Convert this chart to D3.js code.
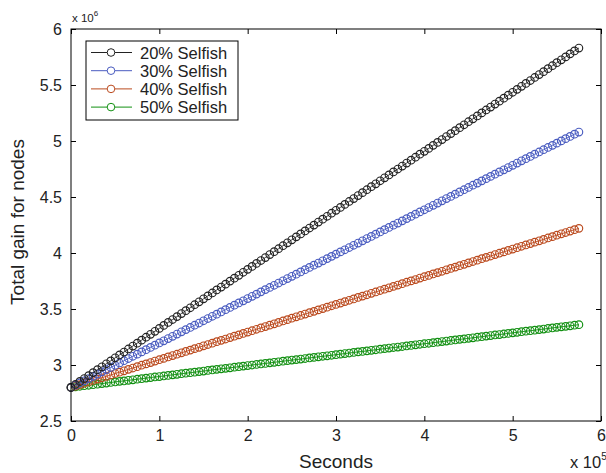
<!DOCTYPE html>
<html><head><meta charset="utf-8">
<script src="https://cdn.jsdelivr.net/npm/d3@7"></script>
<style>body{margin:0;background:#fff;}svg{display:block;font-family:"Liberation Sans",Arial,Helvetica,sans-serif;}</style>
</head><body><svg id="c" width="606" height="473"></svg>
<script>
// seconds (x 10^5)
const seconds = [0,0.05,0.1,0.15,0.2,0.25,0.3,0.35,0.4,0.45,0.5,0.55,0.6,0.65,0.7,0.75,0.8,0.85,0.9,0.95,
1,1.05,1.1,1.15,1.2,1.25,1.3,1.35,1.4,1.45,1.5,1.55,1.6,1.65,1.7,1.75,1.8,1.85,1.9,1.95,
2,2.05,2.1,2.15,2.2,2.25,2.3,2.35,2.4,2.45,2.5,2.55,2.6,2.65,2.7,2.75,2.8,2.85,2.9,2.95,
3,3.05,3.1,3.15,3.2,3.25,3.3,3.35,3.4,3.45,3.5,3.55,3.6,3.65,3.7,3.75,3.8,3.85,3.9,3.95,
4,4.05,4.1,4.15,4.2,4.25,4.3,4.35,4.4,4.45,4.5,4.55,4.6,4.65,4.7,4.75,4.8,4.85,4.9,4.95,
5,5.05,5.1,5.15,5.2,5.25,5.3,5.35,5.4,5.45,5.5,5.55,5.6,5.65,5.7,5.75];
// total gain (x 10^6)
const selfish20 = [2.800,2.826,2.853,2.879,2.905,2.932,2.958,2.984,3.011,3.037,3.064,3.090,3.116,3.143,3.169,3.195,3.222,3.248,3.274,3.301,
3.327,3.353,3.380,3.406,3.432,3.459,3.485,3.511,3.538,3.564,3.591,3.617,3.643,3.670,3.696,3.722,3.749,3.775,3.801,3.828,
3.854,3.880,3.907,3.933,3.959,3.986,4.012,4.038,4.065,4.091,4.118,4.144,4.170,4.197,4.223,4.249,4.276,4.302,4.328,4.355,
4.381,4.407,4.434,4.460,4.486,4.513,4.539,4.565,4.592,4.618,4.645,4.671,4.697,4.724,4.750,4.776,4.803,4.829,4.855,4.882,
4.908,4.934,4.961,4.987,5.013,5.040,5.066,5.092,5.119,5.145,5.172,5.198,5.224,5.251,5.277,5.303,5.330,5.356,5.382,5.409,
5.435,5.461,5.488,5.514,5.540,5.567,5.593,5.619,5.646,5.672,5.699,5.725,5.751,5.778,5.804,5.830];
const selfish30 = [2.800,2.820,2.840,2.859,2.879,2.899,2.919,2.939,2.959,2.978,2.998,3.018,3.038,3.058,3.078,3.097,3.117,3.137,3.157,3.177,
3.197,3.216,3.236,3.256,3.276,3.296,3.316,3.335,3.355,3.375,3.395,3.415,3.435,3.454,3.474,3.494,3.514,3.534,3.554,3.573,
3.593,3.613,3.633,3.653,3.673,3.692,3.712,3.732,3.752,3.772,3.792,3.811,3.831,3.851,3.871,3.891,3.910,3.930,3.950,3.970,
3.990,4.010,4.029,4.049,4.069,4.089,4.109,4.129,4.148,4.168,4.188,4.208,4.228,4.248,4.267,4.287,4.307,4.327,4.347,4.367,
4.386,4.406,4.426,4.446,4.466,4.486,4.505,4.525,4.545,4.565,4.585,4.605,4.624,4.644,4.664,4.684,4.704,4.724,4.743,4.763,
4.783,4.803,4.823,4.842,4.862,4.882,4.902,4.922,4.942,4.961,4.981,5.001,5.021,5.041,5.061,5.080];
const selfish40 = [2.800,2.812,2.825,2.837,2.849,2.862,2.874,2.886,2.899,2.911,2.924,2.936,2.948,2.961,2.973,2.985,2.998,3.010,3.022,3.035,
3.047,3.059,3.072,3.084,3.096,3.109,3.121,3.133,3.146,3.158,3.171,3.183,3.195,3.208,3.220,3.232,3.245,3.257,3.269,3.282,
3.294,3.306,3.319,3.331,3.343,3.356,3.368,3.380,3.393,3.405,3.418,3.430,3.442,3.455,3.467,3.479,3.492,3.504,3.516,3.529,
3.541,3.553,3.566,3.578,3.590,3.603,3.615,3.627,3.640,3.652,3.665,3.677,3.689,3.702,3.714,3.726,3.739,3.751,3.763,3.776,
3.788,3.800,3.813,3.825,3.837,3.850,3.862,3.874,3.887,3.899,3.912,3.924,3.936,3.949,3.961,3.973,3.986,3.998,4.010,4.023,
4.035,4.047,4.060,4.072,4.084,4.097,4.109,4.121,4.134,4.146,4.159,4.171,4.183,4.196,4.208,4.220];
const selfish50 = [2.800,2.805,2.810,2.815,2.819,2.824,2.829,2.834,2.839,2.844,2.849,2.854,2.858,2.863,2.868,2.873,2.878,2.883,2.888,2.893,
2.897,2.902,2.907,2.912,2.917,2.922,2.927,2.931,2.936,2.941,2.946,2.951,2.956,2.961,2.966,2.970,2.975,2.980,2.985,2.990,
2.995,3.000,3.005,3.009,3.014,3.019,3.024,3.029,3.034,3.039,3.044,3.048,3.053,3.058,3.063,3.068,3.073,3.078,3.082,3.087,
3.092,3.097,3.102,3.107,3.112,3.117,3.121,3.126,3.131,3.136,3.141,3.146,3.151,3.156,3.160,3.165,3.170,3.175,3.180,3.185,
3.190,3.194,3.199,3.204,3.209,3.214,3.219,3.224,3.229,3.233,3.238,3.243,3.248,3.253,3.258,3.263,3.268,3.272,3.277,3.282,
3.287,3.292,3.297,3.302,3.306,3.311,3.316,3.321,3.326,3.331,3.336,3.341,3.345,3.350,3.355,3.360];
const seriesNames = ["20% Selfish","30% Selfish","40% Selfish","50% Selfish"];
const seriesColors = ["#222222","#4a5cc0","#bb4a1e","#129012"];
const xTicks = [0,1,2,3,4,5,6];
const yTicks = [2.5,3,3.5,4,4.5,5,5.5,6];

const seriesValues = [selfish20, selfish30, selfish40, selfish50];
const svg = d3.select("#c");
const L=71, R=601, T=29, B=421;
const x = d3.scaleLinear().domain([0,6]).range([L,R]);
const y = d3.scaleLinear().domain([2.5,6]).range([B,T]);

const line = d3.line().x(d=>x(d[0])).y(d=>y(d[1]));
const drawOrder = [3,2,1,0];
drawOrder.forEach(si=>{
  const data = seconds.map((s,i)=>[s, seriesValues[si][i]]);
  const g = svg.append("g");
  g.append("path").datum(data).attr("d",line).attr("fill","none").attr("stroke",seriesColors[si]).attr("stroke-width",0.9);
  g.selectAll("circle").data(data).enter().append("circle")
    .attr("cx",d=>x(d[0])).attr("cy",d=>y(d[1])).attr("r",3.8)
    .attr("fill","none").attr("stroke",seriesColors[si]).attr("stroke-width",1.15);
});

svg.append("rect").attr("x",L).attr("y",T).attr("width",R-L).attr("height",B-T)
  .attr("fill","none").attr("stroke","#000").attr("stroke-width",1);

const fmt = d=>String(d);
const ax = svg.append("g").attr("transform",`translate(0,${B})`)
  .call(d3.axisBottom(x).tickValues(xTicks).tickFormat(fmt).tickSizeInner(-5).tickSizeOuter(0).tickPadding(9));
const axT = svg.append("g").attr("transform",`translate(0,${T})`)
  .call(d3.axisTop(x).tickValues(xTicks).tickFormat("").tickSizeInner(-5).tickSizeOuter(0));
const ay = svg.append("g").attr("transform",`translate(${L},0)`)
  .call(d3.axisLeft(y).tickValues(yTicks).tickFormat(fmt).tickSizeInner(-5).tickSizeOuter(0).tickPadding(9));
const ayR = svg.append("g").attr("transform",`translate(${R},0)`)
  .call(d3.axisRight(y).tickValues(yTicks).tickFormat("").tickSizeInner(-5).tickSizeOuter(0));
[ax,axT,ay,ayR].forEach(a=>{a.select(".domain").remove(); a.selectAll("line").attr("stroke","#000");
  a.selectAll("text").attr("font-size",16).attr("fill","#222").style("font-family","Liberation Sans, Arial, sans-serif");});

const e6 = svg.append("text").attr("x",72).attr("y",22).attr("font-size",11.5).attr("fill","#222");
e6.append("tspan").text("x 10");
e6.append("tspan").attr("dy",-6).attr("font-size",8).text("6");
const e5 = svg.append("text").attr("x",570).attr("y",468).attr("font-size",16.5).attr("fill","#222");
e5.append("tspan").text("x 10");
e5.append("tspan").attr("dy",-8).attr("font-size",10).text("5");

svg.append("text").attr("x",336).attr("y",468).attr("text-anchor","middle").attr("font-size",19).attr("fill","#222").text("Seconds");
svg.append("text").attr("transform","translate(24,222) rotate(-90)").attr("text-anchor","middle").attr("font-size",19).attr("fill","#222").text("Total gain for nodes");

const lg = svg.append("g");
lg.append("rect").attr("x",86).attr("y",41).attr("width",152).attr("height",79).attr("fill","#fff").attr("stroke","#000").attr("stroke-width",1);
seriesNames.forEach((n,i)=>{
  const yy = 52.5 + i*18.2;
  lg.append("line").attr("x1",91).attr("x2",132).attr("y1",yy).attr("y2",yy).attr("stroke",seriesColors[i]).attr("stroke-width",1);
  lg.append("circle").attr("cx",111).attr("cy",yy).attr("r",3.8).attr("fill","#fff").attr("stroke",seriesColors[i]).attr("stroke-width",1);
  lg.append("text").attr("x",140).attr("y",yy+6).attr("font-size",16.5).attr("fill","#222").text(n);
});
</script></body></html>
